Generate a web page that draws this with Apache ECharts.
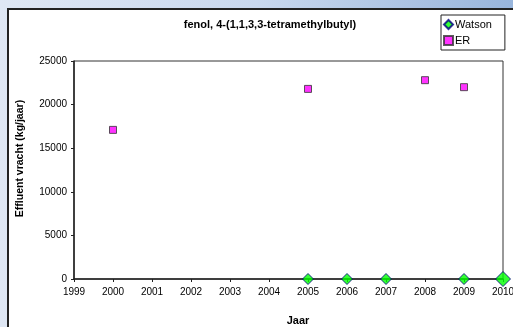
<!DOCTYPE html>
<html><head><meta charset="utf-8">
<script src="https://cdn.jsdelivr.net/npm/echarts@6/dist/echarts.min.js"></script>
<style>
html,body{margin:0;padding:0;width:513px;height:327px;overflow:hidden;}
body{background:linear-gradient(to right,#dfe7f4 0%,#c9d8ee 50%,#98b5dc 100%);}
#panel{position:absolute;left:7px;top:8px;width:520px;height:330px;background:#fff;border-left:2px solid #222;border-top:2px solid #222;}
#chart{position:absolute;left:0;top:0;width:513px;height:327px;}
</style></head>
<body>
<div id="panel"></div>
<div id="chart"></div>
<script>
const titleText = "fenol, 4-(1,1,3,3-tetramethylbutyl)";
const xName = "Jaar";
const yName = "Effluent vracht (kg/jaar)";
const watsonYears = [2005, 2006, 2007, 2009, 2010];
const watsonValues = [0, 0, 0, 0, 0];
const erYears = [2000, 2005, 2008, 2009];
const erValues = [17100, 21800, 22800, 22000];

const font = 'Liberation Sans, Arial, sans-serif';
const chart = echarts.init(document.getElementById('chart'), null, {renderer:'canvas'});
chart.setOption({
  backgroundColor: 'transparent',
  animation: false,
  title: {text: titleText, left: 265, textAlign: 'center', top: 14,
    textStyle: {fontFamily: font, fontSize: 11, fontWeight: 'bold', color: '#000'}},
  legend: {orient: 'vertical', left: 441, top: 15, backgroundColor: '#fff',
    borderColor: '#222', borderWidth: 1, padding: [4, 13, 4, 2], itemGap: 5,
    itemWidth: 9, itemHeight: 9,
    textStyle: {fontFamily: font, fontSize: 11, color: '#000', padding: [0, 0, 0, -3]},
    data: [{name: 'Watson', icon: 'diamond'}, {name: 'ER', icon: 'rect'}]},
  grid: {left: 74, right: 10, top: 61, bottom: 48, show: true, borderColor: '#333', borderWidth: 1,
    containLabel: false, outerBoundsMode: 'none'},
  xAxis: {type: 'value', min: 1999, max: 2010, interval: 1,
    name: xName, nameLocation: 'middle', nameGap: 36,
    nameTextStyle: {fontFamily: font, fontSize: 11, fontWeight: 'bold', color: '#000', padding: [0, 0, 0, 19]},
    axisLine: {lineStyle: {color: '#222', width: 1.5}},
    axisTick: {show: true, length: 3, lineStyle: {color: '#222'}},
    splitLine: {show: false},
    axisLabel: {fontFamily: font, fontSize: 10, color: '#000', margin: 8, formatter: v => String(v)}},
  yAxis: {type: 'value', min: 0, max: 25000, interval: 5000,
    name: yName, nameLocation: 'middle', nameGap: 48,
    nameTextStyle: {fontFamily: font, fontSize: 10.5, fontWeight: 'bold', color: '#000', padding: [0, 0, 0, 23]},
    axisLine: {show: true, lineStyle: {color: '#222', width: 1.5}},
    axisTick: {show: true, length: 3, lineStyle: {color: '#222'}},
    splitLine: {show: false},
    axisLabel: {fontFamily: font, fontSize: 10, color: '#000', margin: 7, formatter: v => String(v)}},
  series: [
    {name: 'Watson', type: 'scatter', clip: false, symbol: 'diamond',
     itemStyle: {color: '#00ff00', borderColor: '#000080', borderWidth: 1},
     data: watsonYears.map((y, i) => ({value: [y, watsonValues[i]], symbolSize: y === 2010 ? 15 : 11}))},
    {name: 'ER', type: 'scatter', clip: false, symbol: 'rect', symbolSize: 7,
     itemStyle: {color: '#ff00ff', borderColor: '#333', borderWidth: 1},
     data: erYears.map((y, i) => [y, erValues[i]])}
  ]
});
</script>
</body></html>
